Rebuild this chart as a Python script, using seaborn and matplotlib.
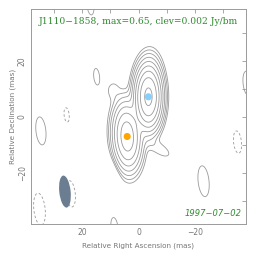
import numpy as np
import pandas as pd
import matplotlib
matplotlib.use("Agg")
import matplotlib.pyplot as plt
from matplotlib.patches import Ellipse
import seaborn as sns

# ---- data ----
title_text = "J1110\u22121858, max=0.65, clev=0.002 Jy/bm"
date_text = "1997\u221207\u221202"
clev = 0.002
n_levels = 9

# model components: RA offset (mas), Dec offset (mas), amplitude (Jy/bm), FWHM major, FWHM minor (mas), PA (deg)
comp_ra = [-3.5, 4.0, 9.0, -7.5, -4.5]
comp_dec = [7.2, -7.0, 9.5, -11.5, 17.0]
comp_amp = [0.62, 0.20, 0.0028, 0.0032, 0.005]
comp_maj = [12.0, 13.0, 6.0, 9.0, 10.0]
comp_min = [5.0, 5.5, 4.0, 4.0, 5.0]
comp_pa = [0.0, 3.0, 0.0, 56.0, 0.0]

# weak features (+/-) across the field
weak_ra = [14.8, 25.4, 34.5, -38.5, -35.0, 8.3, -23.0, 24.0, 35.0, 8.5, 17.0]
weak_dec = [14.4, 0.7, -5.0, 12.0, -9.0, -19.0, -23.0, -27.5, -33.0, -39.5, 40.0]
weak_amp = [0.0024, -0.0023, 0.0034, 0.0030, -0.0028, -0.0023, 0.0038, -0.0032, -0.0040, 0.0026, 0.0026]

# fitted component markers
marker_ra = [-3.5, 4.0]
marker_dec = [7.2, -7.0]
marker_name = ["core", "jet"]
marker_colors = ["#87CEFA", "#FFA500"]

# beam
beam_ra, beam_dec = 26.0, -26.7
beam_maj, beam_min, beam_pa = 11.5, 4.0, 6.0

# ---- build field ----
def gauss(X, Y, x0, y0, a, maj, mn, pa):
    t = np.deg2rad(pa)
    dx, dy = X - x0, Y - y0
    u = dx * np.sin(t) + dy * np.cos(t)
    v = dx * np.cos(t) - dy * np.sin(t)
    return a * np.exp(-4 * np.log(2) * (u ** 2 / maj ** 2 + v ** 2 / mn ** 2))

g = np.linspace(-45, 45, 451)
X, Y = np.meshgrid(g, g)
Z = np.zeros_like(X)
for x0, y0, a, mj, mn, pa in zip(comp_ra, comp_dec, comp_amp, comp_maj, comp_min, comp_pa):
    Z += gauss(X, Y, x0, y0, a, mj, mn, pa)
for x0, y0, a in zip(weak_ra, weak_dec, weak_amp):
    Z += gauss(X, Y, x0, y0, a, beam_maj, beam_min, beam_pa)

sns.set_style("white")
plt.rcParams["font.family"] = ["DejaVu Sans"]

fig = plt.figure(figsize=(2.64, 2.62), dpi=100)
ax = fig.add_axes([31 / 264, 1 - 224 / 262, 215 / 264, 215 / 262])

gray = "#9a9a9a"
pos_levels = [clev * 2 ** k for k in range(n_levels)]
ax.contour(X, Y, Z, levels=pos_levels, colors=gray, linewidths=0.6, linestyles="solid")
ax.contour(X, Y, Z, levels=[-clev], colors=gray, linewidths=0.6, linestyles=[(0, (3, 2.5))])

ax.add_patch(Ellipse((beam_ra, beam_dec), beam_min, beam_maj, angle=-beam_pa,
                     facecolor="#6b7d90", edgecolor="none", zorder=3))

df = pd.DataFrame({"ra": marker_ra, "dec": marker_dec, "name": marker_name})
sns.scatterplot(data=df, x="ra", y="dec", hue="name", palette=marker_colors,
                s=26, edgecolor="none", legend=False, ax=ax, zorder=4)

ax.set_xlim(38, -38)
ax.set_ylim(-38.3, 38.6)
ax.set_xticks([20, 0, -20])
ax.set_xticks([30, 10, -10, -30], minor=True)
ax.set_yticks([20, 0, -20])
ax.set_yticks([30, 10, -10, -30], minor=True)
ax.set_xticklabels(["20", "0", "\u221220"])
ax.set_yticklabels(["20", "0", "\u221220"], rotation=90, va="center")
ax.tick_params(which="both", direction="in", top=True, right=True, length=3,
               width=0.6, color=gray, labelsize=5.5, labelcolor="#777777", pad=3)
for s in ax.spines.values():
    s.set_color(gray)
    s.set_linewidth(0.7)
ax.set_xlabel("Relative Right Ascension (mas)", fontsize=5.2, color="#777777", labelpad=4)
ax.set_ylabel("Relative Declination (mas)", fontsize=5.2, color="#777777", labelpad=1)

green = "#2e8b2e"
ax.text(0.5, 0.94, title_text, transform=ax.transAxes, ha="center", va="center",
        fontsize=6.6, color=green, family="DejaVu Serif")
ax.text(0.98, 0.05, date_text, transform=ax.transAxes, ha="right", va="center",
        fontsize=6.0, color=green, style="italic")

fig.savefig("out.png", dpi=100)
